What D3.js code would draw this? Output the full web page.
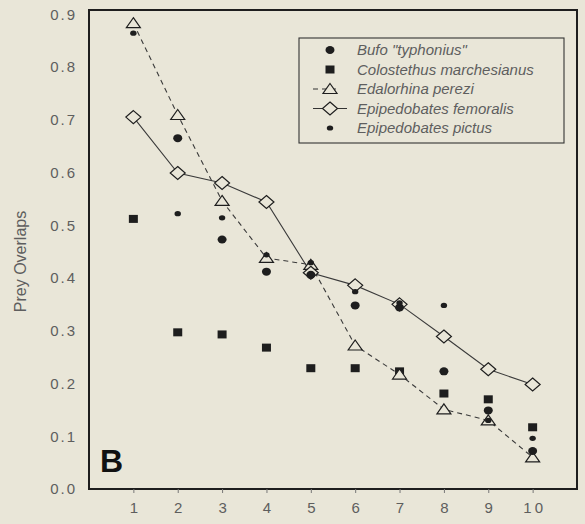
<!DOCTYPE html>
<html>
<head>
<meta charset="utf-8">
<script src="https://cdn.jsdelivr.net/npm/d3@7"></script>
<style>
  html, body { margin: 0; padding: 0; background: #e9e6d8; }
  svg { display: block; }
</style>
</head>
<body>
<div id="chart"></div>
<script>
// rank positions 1..10
const ranks = [1, 2, 3, 4, 5, 6, 7, 8, 9, 10];

// prey overlap values (null = not visible)
const bufo = [null, 0.665, 0.473, 0.412, 0.406, 0.348, 0.344, 0.223, 0.149, 0.072];
const colostethus = [0.512, 0.297, 0.293, 0.268, 0.229, 0.229, 0.223, 0.181, 0.170, 0.117];
const edalorhina = [0.883, 0.709, 0.546, 0.438, 0.425, 0.272, 0.217, 0.151, 0.130, 0.060];
const femoralis = [0.705, 0.599, 0.580, 0.544, 0.410, 0.386, 0.350, 0.289, 0.227, 0.198];
const pictus = [0.864, 0.522, 0.514, 0.444, 0.429, 0.374, 0.353, 0.348, 0.130, 0.096];

const yTicks = [0, 0.1, 0.2, 0.3, 0.4, 0.5, 0.6, 0.7, 0.8, 0.9];
const legendNames = ['Bufo "typhonius"', "Colostethus marchesianus", "Edalorhina perezi", "Epipedobates femoralis", "Epipedobates pictus"];

const width = 585, height = 524;
const margin = { top: 10, right: 8, bottom: 35, left: 89 };
const bg = "#e9e6d8";

const svg = d3.select("#chart").append("svg")
  .attr("width", width)
  .attr("height", height)
  .style("background", bg);

const x = d3.scaleLinear().domain([0, 11]).range([margin.left, width - margin.right]);
const y = d3.scaleLinear().domain([0, 0.908]).range([height - margin.bottom, margin.top]);

const ink = "#1e1e1e";
const textGray = "#5e5e5e";
const font = "Liberation Sans, Arial, sans-serif";

// frame
svg.append("rect")
  .attr("x", x(0)).attr("y", y(0.908))
  .attr("width", x(11) - x(0)).attr("height", y(0) - y(0.908))
  .attr("fill", "none").attr("stroke", ink).attr("stroke-width", 2);

// x axis
const xAxis = svg.append("g")
  .attr("transform", `translate(0,${y(0)})`)
  .call(d3.axisBottom(x).tickValues(ranks).tickSize(4).tickPadding(9).tickFormat(d3.format("d")));
xAxis.select(".domain").remove();
xAxis.selectAll("line").attr("stroke", "#777");
xAxis.selectAll("text")
  .attr("fill", textGray).style("font-family", font)
  .style("font-size", "15px").style("letter-spacing", "3px")
  .attr("dx", "1.5px");

// y axis
const yAxis = svg.append("g")
  .attr("transform", `translate(${x(0)},0)`)
  .call(d3.axisLeft(y).tickValues(yTicks).tickSize(0).tickPadding(12).tickFormat(d3.format(".1f")));
yAxis.select(".domain").remove();
yAxis.selectAll("text")
  .attr("fill", textGray).style("font-family", font)
  .style("font-size", "15px").style("letter-spacing", "2px");

svg.append("text")
  .attr("transform", `translate(26,${(y(0) + y(0.908)) / 2 + 12}) rotate(-90)`)
  .attr("text-anchor", "middle")
  .attr("fill", textGray)
  .style("font-family", font)
  .style("font-size", "16px")
  .text("Prey Overlaps");

svg.append("text")
  .attr("x", x(0) + 11).attr("y", y(0) - 17)
  .attr("fill", "#111")
  .style("font-family", font)
  .style("font-size", "32px").style("font-weight", "bold")
  .text("B");

const pts = arr => ranks.map((r, i) => ({ r, v: arr[i] })).filter(d => d.v != null);
const line = d3.line().x(d => x(d.r)).y(d => y(d.v));

// Edalorhina dashed line
svg.append("path")
  .datum(pts(edalorhina))
  .attr("d", line)
  .attr("fill", "none").attr("stroke", "#3a3a3a").attr("stroke-width", 1.1)
  .attr("stroke-dasharray", "5,4");

// femoralis solid line
svg.append("path")
  .datum(pts(femoralis))
  .attr("d", line)
  .attr("fill", "none").attr("stroke", "#3a3a3a").attr("stroke-width", 1.1);

function drawSquare(g, cx, cy) {
  g.append("rect").attr("x", cx - 4.5).attr("y", cy - 4).attr("width", 9).attr("height", 8).attr("fill", ink);
}
function drawCircle(g, cx, cy) {
  g.append("ellipse").attr("cx", cx).attr("cy", cy).attr("rx", 4.5).attr("ry", 4).attr("fill", ink);
}
function drawDot(g, cx, cy) {
  g.append("ellipse").attr("cx", cx).attr("cy", cy).attr("rx", 3.2).attr("ry", 2.6).attr("fill", ink);
}
function drawTri(g, cx, cy) {
  g.append("path").attr("d", `M${cx},${cy - 5.5}L${cx + 7},${cy + 4.5}L${cx - 7},${cy + 4.5}Z`)
    .attr("fill", bg).attr("stroke", ink).attr("stroke-width", 1.2);
}
function drawDiamond(g, cx, cy) {
  g.append("path").attr("d", `M${cx},${cy - 6.5}L${cx + 7.5},${cy}L${cx},${cy + 6.5}L${cx - 7.5},${cy}Z`)
    .attr("fill", bg).attr("stroke", ink).attr("stroke-width", 1.2);
}

const marks = svg.append("g");
pts(colostethus).forEach(d => drawSquare(marks, x(d.r), y(d.v)));
pts(edalorhina).forEach(d => drawTri(marks, x(d.r), y(d.v)));
pts(femoralis).forEach(d => drawDiamond(marks, x(d.r), y(d.v)));
pts(bufo).forEach(d => drawCircle(marks, x(d.r), y(d.v)));
pts(pictus).forEach(d => drawDot(marks, x(d.r), y(d.v)));

// legend
const lg = svg.append("g").attr("transform", "translate(299,38)");
lg.append("rect").attr("width", 265).attr("height", 105)
  .attr("fill", bg).attr("stroke", "#333").attr("stroke-width", 1.1);
const rowY = i => 12 + i * 19.5;
const symX = 31;
drawCircle(lg, symX, rowY(0));
drawSquare(lg, symX, rowY(1));
lg.append("line").attr("x1", symX - 17).attr("x2", symX + 10).attr("y1", rowY(2)).attr("y2", rowY(2))
  .attr("stroke", "#333").attr("stroke-width", 1.1).attr("stroke-dasharray", "5,4");
drawTri(lg, symX, rowY(2));
lg.append("line").attr("x1", symX - 17).attr("x2", symX + 17).attr("y1", rowY(3)).attr("y2", rowY(3))
  .attr("stroke", "#333").attr("stroke-width", 1.1);
drawDiamond(lg, symX, rowY(3));
drawDot(lg, symX, rowY(4));

lg.selectAll("text.name")
  .data(legendNames)
  .join("text")
  .attr("class", "name")
  .attr("x", 58)
  .attr("y", (d, i) => rowY(i) + 5)
  .attr("fill", textGray)
  .style("font-family", font)
  .style("font-size", "15px").style("font-style", "italic")
  .text(d => d);
</script>
</body>
</html>
